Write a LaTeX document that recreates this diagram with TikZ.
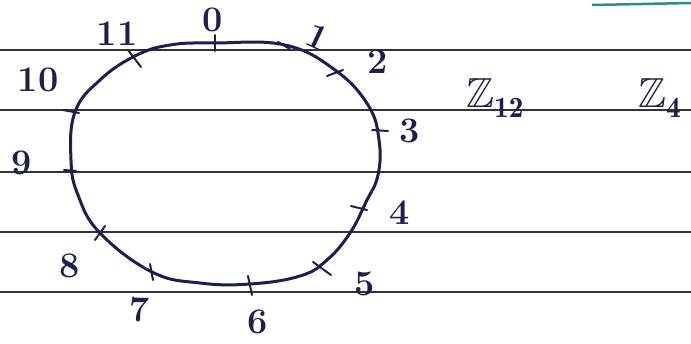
\documentclass[tikz,border=0pt]{standalone}
\usepackage{amssymb}
\usepackage{fontspec}
\begin{document}
\begin{tikzpicture}[x=1pt,y=-1pt,
  ink/.style={draw=inkc,line width=3pt,line cap=round,line join=round},
  tick/.style={draw=inkc,line width=2pt,line cap=round},
  rule/.style={draw=black!80,line width=1.3pt},
  lab/.style={text=inkc,font=\fontsize{36}{38}\selectfont\bfseries,inner sep=0pt},
  zlab/.style={text=inkc,font=\fontsize{42}{44}\selectfont\bfseries,inner sep=0pt}]
\definecolor{inkc}{HTML}{1B2050}
\definecolor{tealc}{HTML}{2A8C8C}
\useasboundingbox[fill=white] (0,0) rectangle (691,343);
% ruled lines
\foreach \yy in {50,110,172,232,292}{\draw[rule] (0,\yy) -- (691,\yy);}
\draw[draw=tealc,line width=2.5pt] (592,5) -- (691,3);
% ring
\draw[ink] plot[smooth cycle,tension=0.7] coordinates {(215,43) (285,45) (335,70) (368,105) (379,140) (378,175) (366,202) (350,233) (327,260) (300,276) (250,284) (200,283) (152,272) (100,233) (78,195) (71,160) (75,112) (100,80) (135,56) (170,45)};
% ticks
\draw[tick] (215,35) -- (215,51);
\draw[tick] (278,42) -- (290,49);
\draw[tick] (327,76) -- (343,70);
\draw[tick] (372,130) -- (388,131);
\draw[tick] (351,206) -- (367,210);
\draw[tick] (313,262) -- (331,275);
\draw[tick] (248,276) -- (252,295);
\draw[tick] (150,264) -- (153,280);
\draw[tick] (95,240) -- (105,226);
\draw[tick] (64,170) -- (76,171);
\draw[tick] (63,110) -- (79,113);
\draw[tick] (128,50) -- (141,67);
% labels
\node[lab] (l0) at (213,20) {0};
\node[lab,rotate=-25] (l1) at (318,37) {1};
\node[lab] (l2) at (378,62) {2};
\node[lab] (l3) at (410,131) {3};
\node[lab] (l4) at (400,213) {4};
\node[lab] (l5) at (365,284) {5};
\node[lab] (l6) at (258,322) {6};
\node[lab] (l7) at (140,310) {7};
\node[lab] (l8) at (70,266) {8};
\node[lab] (l9) at (22,163) {9};
\node[lab] (l10) at (38,80) {10};
\node[lab] (l11) at (117,34) {11};
\node[zlab,anchor=west] (z12) at (466,98) {$\mathbb{Z}_{\mathbf{12}}$};
\node[zlab,anchor=west] (z4) at (638,98) {$\mathbb{Z}_{\mathbf{4}}$};
\end{tikzpicture}
\end{document}
